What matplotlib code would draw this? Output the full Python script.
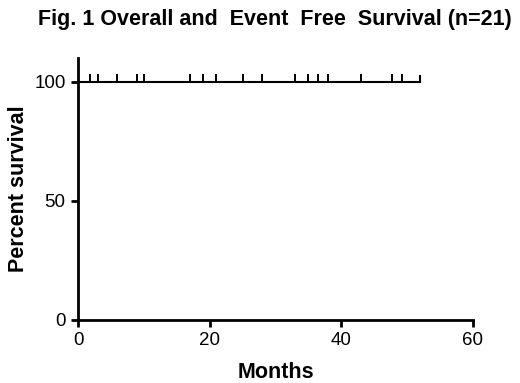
import matplotlib
matplotlib.use("Agg")
import matplotlib.pyplot as plt

plt.rcParams['font.family'] = ['Liberation Sans', 'DejaVu Sans']

# survival curve (all patients alive, no events)
months = [0, 52]
survival = [100, 100]
# censored patients (months of last follow-up)
censored = [1.8, 3, 6, 9, 10, 17, 19, 21, 25, 28, 33, 35, 36.5, 38, 43, 47.7, 49.2]
xticks = [0, 20, 40, 60]
yticks = [0, 50, 100]

fig = plt.figure(figsize=(5.2, 3.83), dpi=100)
ax = fig.add_axes([0.15, 0.1645, 0.7596, 0.684])

ax.step(months, survival, where='post', color='black', lw=1.5)
ax.plot(censored, [100] * len(censored), ls='none', marker=2, color='black',
        markersize=5.5, markeredgewidth=1.4)
# end of curve turned up
ax.plot([months[-1], months[-1]], [100, 102.3], color='black', lw=1.5)

ax.set_xlim(0, 60)
ax.set_ylim(0, 110)
ax.set_xticks(xticks)
ax.set_yticks(yticks)
ax.tick_params(direction='out', length=5, width=2, labelsize=13.5, pad=4)
for s in ['top', 'right']:
    ax.spines[s].set_visible(False)
for s in ['left', 'bottom']:
    ax.spines[s].set_linewidth(2)

ax.set_xlabel('Months', fontsize=15.5, fontweight='bold', labelpad=9)
ax.set_ylabel('Percent survival', fontsize=15.5, fontweight='bold', labelpad=4)
fig.text(0.528, 0.95, 'Fig. 1 Overall and  Event  Free  Survival (n=21)',
         ha='center', va='center', fontsize=15.5, fontweight='bold')

fig.savefig('out.png', dpi=100)
